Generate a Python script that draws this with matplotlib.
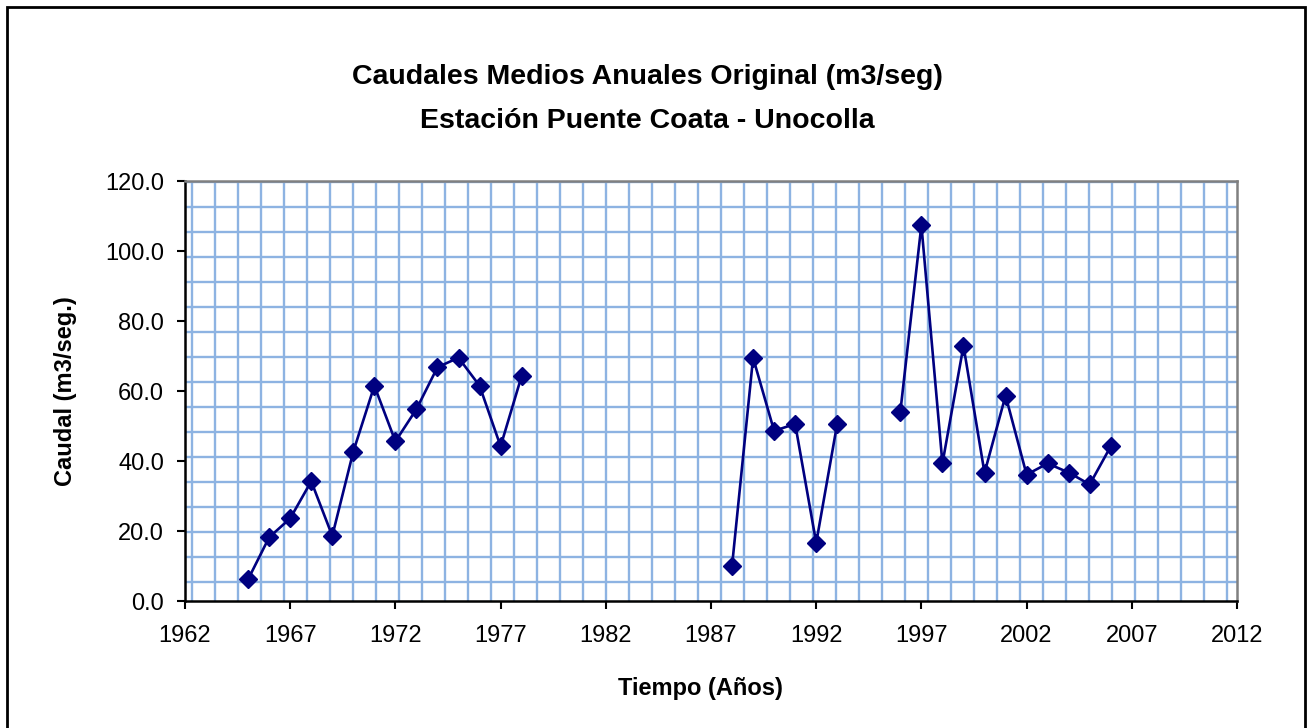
"""
Caudales medios anuales - Estacion Puente Coata - Unocolla
"""
import numpy as np
import matplotlib
matplotlib.use('Agg')
import matplotlib.pyplot as plt
from matplotlib.lines import Line2D
from matplotlib.patches import Rectangle

# data, None = no record
anios = list(range(1965, 2007))
caudal = [6.2, 18.2, 23.6, 34.2, 18.6, 42.7, 61.5, 45.6, 54.8, 66.8, 69.5, 61.5, 44.2, 64.3,
          None, None, None, None, None, None, None, None, None,
          10.0, 69.5, 48.6, 50.6, 16.6, 50.7,
          None, None,
          54.1, 107.4, 39.3, 72.9, 36.6, 58.7, 36.1, 39.3, 36.7, 33.3, 44.2]
x_ticks = [1962, 1967, 1972, 1977, 1982, 1987, 1992, 1997, 2002, 2007, 2012]
y_ticks = [0, 20, 40, 60, 80, 100, 120]

titulo = 'Caudales Medios Anuales Original (m3/seg)\nEstación Puente Coata - Unocolla'

plt.rcParams['font.family'] = ['Liberation Sans', 'DejaVu Sans']

fig = plt.figure(figsize=(13.09, 7.28), dpi=100)
W, H = 1309, 728
l, r, t, b = 185, 1237, 181, 601
ax = fig.add_axes([l/W, 1 - b/H, (r - l)/W, (b - t)/H])

# plot area pattern (blue grid, not tied to the data scale)
gcol = '#8db3e2'
pw, ph = r - l, b - t
for k in range(46):
    fx = (6.7 + 23.0*k)/pw
    ax.add_line(Line2D([fx, fx], [0, 1], transform=ax.transAxes, color=gcol, lw=1.7, zorder=0))
for k in range(17):
    fy = (b - 182 - 25.0*k)/ph
    ax.add_line(Line2D([0, 1], [fy, fy], transform=ax.transAxes, color=gcol, lw=1.7, zorder=0))

y = np.array([np.nan if v is None else v for v in caudal], dtype=float)
ax.plot(anios, y, color='#000080', lw=1.9, marker='D', ms=9, mec='#000080', mfc='#000080', zorder=3)

ax.set_xlim(1962, 2012)
ax.set_ylim(0, 120)
ax.set_xticks(x_ticks)
ax.set_yticks(y_ticks)
ax.set_yticklabels(['%.1f' % v for v in y_ticks])
ax.tick_params(axis='both', labelsize=17, length=6, width=1.5, direction='out', colors='black')
ax.tick_params(axis='x', pad=11)
ax.tick_params(axis='y', pad=9)

for s in ['left', 'bottom']:
    ax.spines[s].set_color('black')
    ax.spines[s].set_linewidth(1.8)
for s in ['top', 'right']:
    ax.spines[s].set_color('#808080')
    ax.spines[s].set_linewidth(1.8)

fig.text(647/W, 1 - 99/H, titulo, ha='center', va='center', fontsize=20.5, fontweight='bold',
         linespacing=1.9)
ax.set_ylabel('Caudal (m3/seg.)', fontsize=17, fontweight='bold', labelpad=20)
fig.text(700/W, 1 - 688/H, 'Tiempo (Años)', ha='center', va='center', fontsize=17, fontweight='bold')

# outer chart border
fig.patches.append(Rectangle((7/W, -0.02), (1305 - 7)/W, 1.02 - 7/H, transform=fig.transFigure,
                             fill=False, edgecolor='black', lw=2))

fig.savefig('out.png', dpi=100)
